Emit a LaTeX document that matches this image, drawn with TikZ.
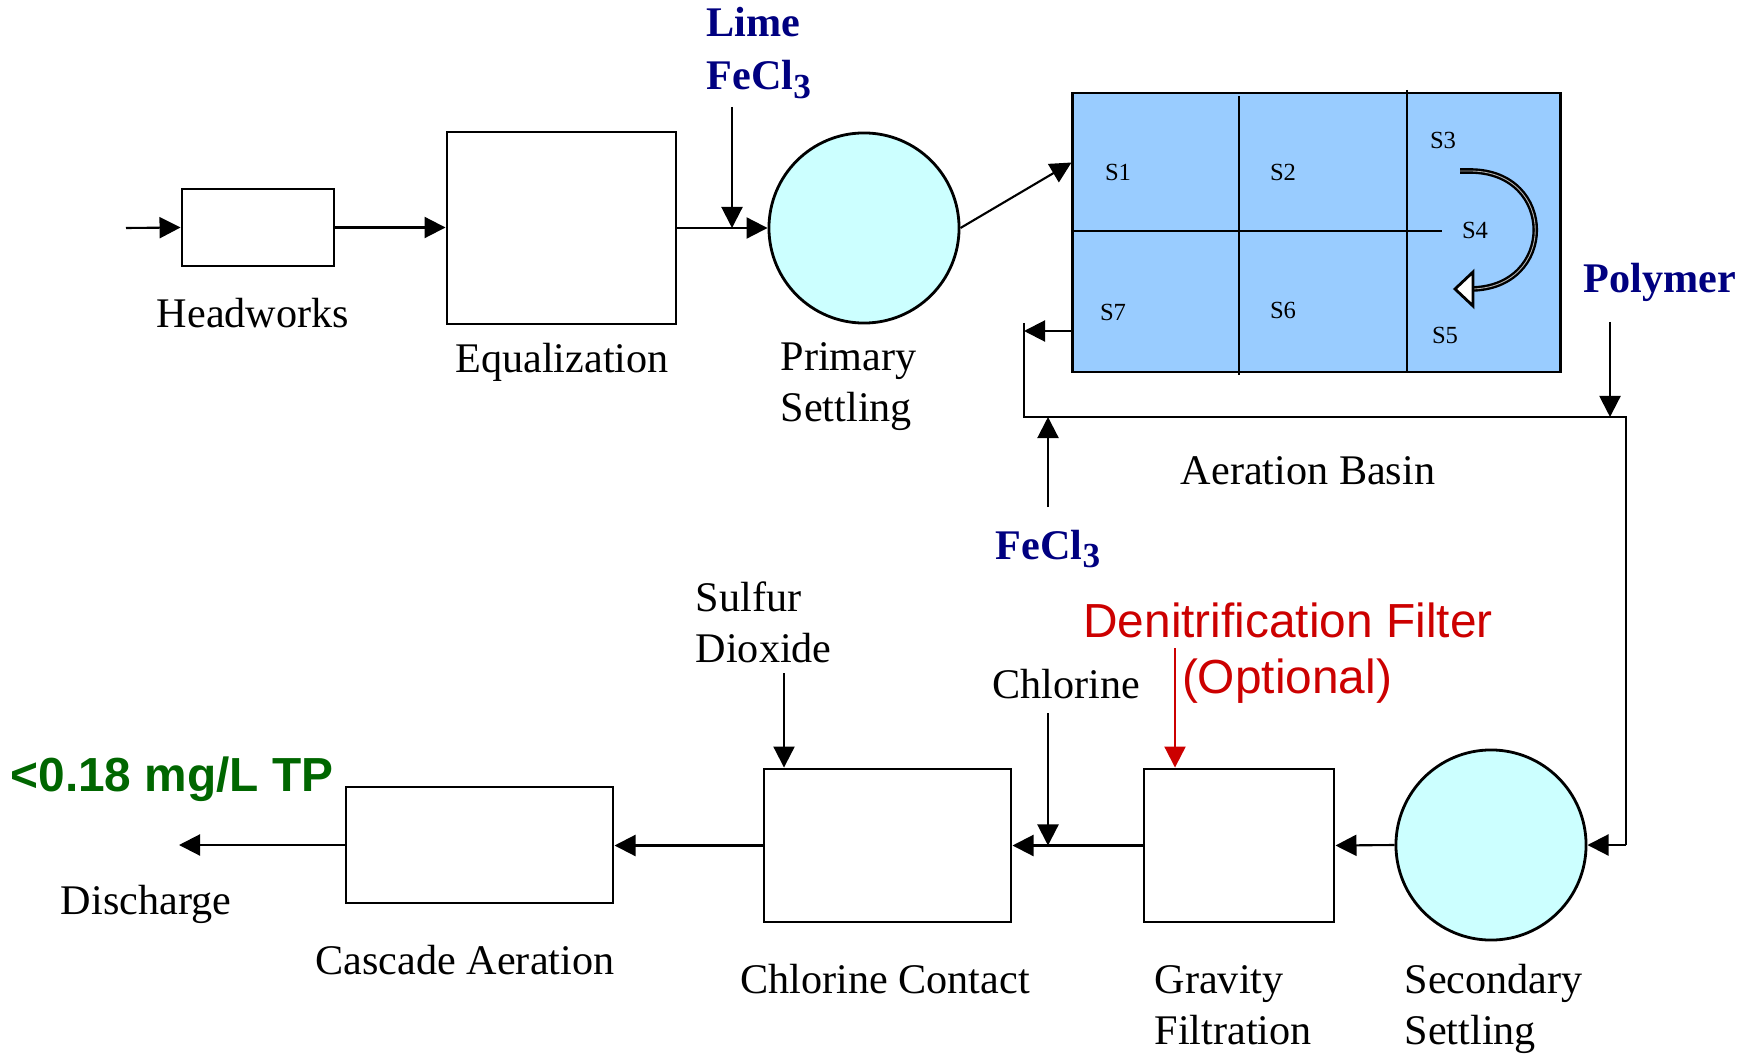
\documentclass[tikz,border=0pt]{standalone}
\usepackage{fontspec}
\setmainfont{Liberation Serif}
\newfontfamily\arialfont{Liberation Sans}
\usetikzlibrary{arrows.meta,calc}
\definecolor{tankcyan}{HTML}{CCFFFF}
\definecolor{basinblue}{HTML}{99CCFF}
\definecolor{chemblue}{HTML}{000080}
\definecolor{optred}{HTML}{CC0000}
\definecolor{tpgreen}{HTML}{006600}
\newcommand{\subthree}{\raisebox{-0.45ex}{\fontsize{10}{10}\selectfont 3}}
\tikzset{
  box/.style={draw, line width=0.8pt, fill=white, inner sep=0pt},
  tank/.style={draw, circle, line width=0.8pt, fill=tankcyan, minimum size=1.9cm, inner sep=0pt},
  flow/.style={line width=0.6pt, -{Triangle[length=2.1mm,width=2.1mm]}},
  pipe/.style={line width=0.6pt},
  lbl/.style={font=\fontsize{12}{14.5}\selectfont, align=left, inner sep=0pt},
  chem/.style={font=\bfseries\fontsize{12}{15}\selectfont, text=chemblue, align=left, inner sep=0pt},
  slabel/.style={font=\fontsize{7}{8}\selectfont, inner sep=0pt},
  redlbl/.style={font=\arialfont\fontsize{13.6}{16}\selectfont, text=optred, inner sep=0pt},
}
\begin{document}
\begin{tikzpicture}[x=0.01cm, y=-0.01cm]
\useasboundingbox (0,0) rectangle (1758,1055);

% process units
\node[box, minimum width=1.52cm, minimum height=0.77cm] (hw) at (258,227.5) {};
\node[box, minimum width=2.29cm, minimum height=1.92cm] (eq) at (561.5,228) {};
\node[tank] (ps) at (864,228) {};
\node[draw, line width=0.8pt, fill=basinblue, minimum width=4.87cm, minimum height=2.79cm, inner sep=0pt] (basin) at (1316.5,232.5) {};
\node[tank] (ss) at (1491,845) {};
\node[box, minimum width=1.90cm, minimum height=1.53cm] (gf) at (1239,845.5) {};
\node[box, minimum width=2.47cm, minimum height=1.53cm] (cc) at (887.5,845.5) {};
\node[box, minimum width=2.67cm, minimum height=1.16cm] (ca) at (479.5,845) {};

% basin partitions
\draw[pipe] (1239,96) -- (1239,375);
\draw[pipe] (1407,90) -- (1407,372);
\draw[pipe] (1073,231) -- (1442,231);
\node[slabel] (s1) at (1118,172) {S1};
\node[slabel] (s2) at (1283,172) {S2};
\node[slabel] (s3) at (1443,140) {S3};
\node[slabel] (s4) at (1475,230) {S4};
\node[slabel] (s5) at (1445,335) {S5};
\node[slabel] (s6) at (1283,310) {S6};
\node[slabel] (s7) at (1113,312) {S7};
% curved flow arrow
\draw[line width=1.6pt] (1460,171) -- (1470,171) .. controls (1557,171) and (1557,289) .. (1470,289) -- (1473,289);
\draw[line width=0.25pt, white!70!black] (1460,171) -- (1470,171) .. controls (1557,171) and (1557,289) .. (1470,289) -- (1473,289);
\draw[line width=0.8pt, fill=white] (1455,289) -- (1473,272) -- (1473,306) -- cycle;

% coordinates
\coordinate (in) at (126,228);
\coordinate (limetop) at (732,107);
\coordinate (loopL) at (1024,331);
\coordinate (lpA) at (1024,323);
\coordinate (lpB) at (1024,417);
\coordinate (lpC) at (1626,417);
\coordinate (lpD) at (1626,845);
\coordinate (polytop) at (1610,322);
\coordinate (fetop) at (1048,507);
\coordinate (cltop) at (1048,713);
\coordinate (dntop) at (1175,648);
\coordinate (sotop) at (784,673);
\coordinate (dis) at (179,845);

% connectors
\draw[flow] (in) -- (hw.west);
\draw[flow] (hw.east) -- (hw.east -| eq.west);
\draw[flow] (eq.east) -- (ps.west);
\draw[flow] (limetop) -- (limetop |- ps.west);
\draw[flow] (ps.east) -- ($(basin.north west)+(0,71)$);
\draw[flow] (basin.west |- loopL) -- (loopL);
\draw[pipe] (lpA) -- (lpB) -- (lpC) -- (lpD);
\draw[flow] (lpD) -- (ss.east);
\draw[flow] (polytop) -- (polytop |- lpB);
\draw[flow] (fetop) -- (fetop |- lpB);
\draw[flow] (ss.west) -- (gf.east);
\draw[flow] (gf.west) -- (cc.east);
\draw[flow] (cltop) -- (cltop |- cc.east);
\draw[flow, draw=optred, fill=optred] (dntop) -- (dntop |- gf.north);
\draw[flow] (sotop) -- (sotop |- cc.north);
\draw[flow] (cc.west) -- (cc.west -| ca.east);
\draw[flow] (ca.west) -- (dis);

% labels
\node[lbl] (lhw) at (253,313) {Headworks};
\node[lbl] (leq) at (562,362) {Equalization};
\node[lbl, anchor=west] (lps) at (780,387) {Primary\\Settling};
\node[lbl] (lab) at (1308,471) {Aeration Basin};
\node[chem, anchor=west] (llime) at (706,53) {Lime\\FeCl\subthree};
\node[chem] (lpoly) at (1660,282) {Polymer};
\node[chem] (lfe) at (1048,549) {FeCl\subthree};
\node[lbl, anchor=west] (lso) at (695,622) {Sulfur\\Dioxide};
\node[lbl] (lcl) at (1066,684) {Chlorine};
\node[redlbl] (ldn1) at (1288,620) {Denitrification Filter};
\node[redlbl] (ldn2) at (1287,681) {(Optional)};
\node[font=\arialfont\bfseries\fontsize{13.6}{16}\selectfont, text=tpgreen, inner sep=0pt] (ltp) at (172,779) {<0.18 mg/L TP};
\node[lbl] (ldis) at (146,904) {Discharge};
\node[lbl] (lca) at (465,960) {Cascade Aeration};
\node[lbl] (lcc) at (885,979) {Chlorine Contact};
\node[lbl, anchor=west] (lgf) at (1154,1005) {Gravity\\Filtration};
\node[lbl, anchor=west] (lss) at (1404,1009) {Secondary\\Settling};
\end{tikzpicture}
\end{document}
